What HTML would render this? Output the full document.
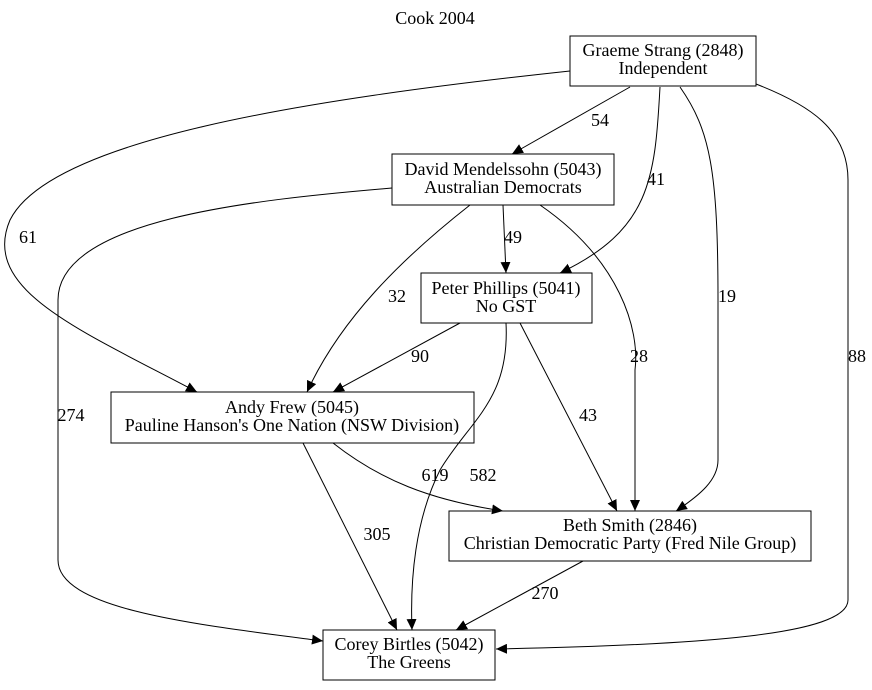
<!DOCTYPE html>
<html><head><meta charset="utf-8"><style>
html,body{margin:0;padding:0;background:#fff;}
svg text{font-family:"Liberation Serif",serif;font-size:18px;fill:#000;}
</style></head><body>
<svg width="872" height="685" viewBox="0 0 872 685" xmlns="http://www.w3.org/2000/svg">
<defs><marker id="a" markerWidth="11" markerHeight="10" refX="11" refY="5" orient="auto" markerUnits="userSpaceOnUse"><path d="M0,0 L11,5 L0,10 z" fill="#000"/></marker></defs>
<rect width="872" height="685" fill="#fff"/>
<text x="435" y="24" text-anchor="middle">Cook 2004</text>
<g fill="none" stroke="#000" stroke-width="1">
<rect x="570" y="36" width="186" height="50"/>
<rect x="392" y="154" width="222" height="51"/>
<rect x="421" y="273" width="171" height="50"/>
<rect x="111" y="392" width="363" height="51"/>
<rect x="449" y="511" width="362" height="50"/>
<rect x="323" y="630" width="172" height="50"/>
<g marker-end="url(#a)">
<path d="M630,87 L512,154"/>
<path d="M660,87 C655,180 650,230 560,273"/>
<path d="M680,87 C710,130 718,170 718,300 L718,460 C718,480 700,495 676,511"/>
<path d="M756,84 C810,105 848,130 848,180 L848,600 C848,635 700,645 496,649"/>
<path d="M570,71 C300,100 50,140 10,220 C-20,290 80,330 197,392"/>
<path d="M503,205 L506,273"/>
<path d="M470,205 C400,260 340,320 307,392"/>
<path d="M540,205 C620,260 640,330 635,370 L635,511"/>
<path d="M392,188 C250,200 58,220 58,300 L58,560 C58,610 200,625 323,641"/>
<path d="M460,323 L333,392"/>
<path d="M520,323 L617,511"/>
<path d="M506,323 C510,400 470,420 440,470 C415,520 410,580 412,630"/>
<path d="M333,443 C380,480 430,500 503,511"/>
<path d="M303,443 L397,630"/>
<path d="M583,561 L456,630"/>
</g></g>
<g text-anchor="middle">
<text x="663" y="56">Graeme Strang (2848)</text><text x="663" y="74">Independent</text>
<text x="503" y="175">David Mendelssohn (5043)</text><text x="503" y="193">Australian Democrats</text>
<text x="506" y="294">Peter Phillips (5041)</text><text x="506" y="312">No GST</text>
<text x="292" y="413">Andy Frew (5045)</text><text x="292" y="431">Pauline Hanson's One Nation (NSW Division)</text>
<text x="630" y="531">Beth Smith (2846)</text><text x="630" y="549">Christian Democratic Party (Fred Nile Group)</text>
<text x="409" y="650">Corey Birtles (5042)</text><text x="409" y="668">The Greens</text>
<text x="600" y="126">54</text><text x="656" y="185">41</text><text x="727" y="302">19</text>
<text x="857" y="362">88</text><text x="28" y="243">61</text><text x="513" y="243">49</text>
<text x="397" y="302">32</text><text x="639" y="362">28</text><text x="71" y="421">274</text>
<text x="420" y="362">90</text><text x="588" y="421">43</text><text x="483" y="481">582</text>
<text x="435" y="481">619</text><text x="377" y="540">305</text><text x="545" y="599">270</text>
</g>
</svg>
</body></html>
